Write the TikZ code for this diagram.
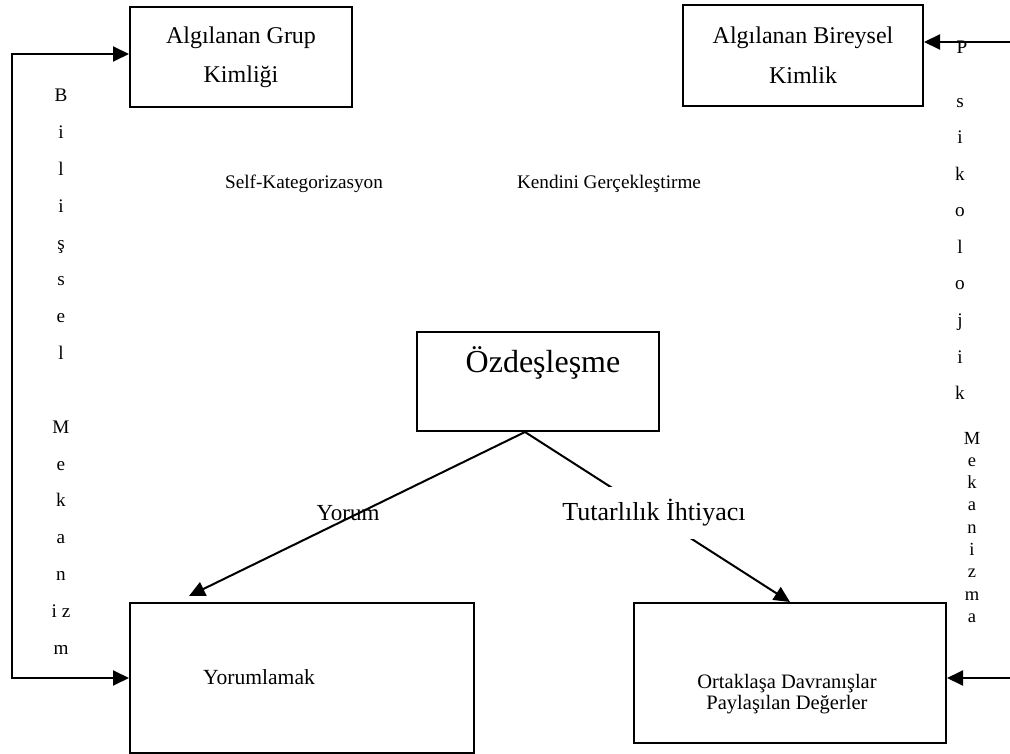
\documentclass[tikz,border=0pt]{standalone}
\usepackage{fontspec}
\setmainfont{Liberation Serif}
\usetikzlibrary{arrows.meta}
\begin{document}
\begin{tikzpicture}[x=1pt,y=-1pt,
  box/.style={draw, line width=2pt, inner sep=0pt},
  conn/.style={line width=2pt, -{Triangle[length=16pt,width=15pt]}},
  lbl/.style={inner sep=0pt, font=\fontsize{19.2}{23}\selectfont},
  small/.style={inner sep=0pt, font=\fontsize{18.5}{20}\selectfont}
]
\useasboundingbox (0,0) rectangle (1010,754);

% boxes
\node[box, minimum width=222, minimum height=100, align=center,
      font=\fontsize{24}{39}\selectfont] (grup) at (241,57) {Algılanan Grup\\Kimliği};
\node[box, minimum width=240, minimum height=101, align=center,
      font=\fontsize{24}{40}\selectfont] (bir) at (803,55.5) {Algılanan Bireysel\\Kimlik};
\node[box, minimum width=242, minimum height=99] (ozd) at (538,381.5) {};
\node[inner sep=0pt, font=\fontsize{32}{38}\selectfont] (ozdt) at (543,363) {Özdeşleşme};
\node[box, minimum width=344, minimum height=150] (yor) at (302,678) {};
\node[inner sep=0pt, font=\fontsize{21.6}{26}\selectfont] (yort) at (259,677) {Yorumlamak};
\node[box, minimum width=312, minimum height=140] (ort) at (790,673) {};
\node[inner sep=0pt, align=center, font=\fontsize{20.5}{21}\selectfont] (ortt) at (787,694)
     {Ortaklaşa Davranışlar\\Paylaşılan Değerler};

% free-standing labels
\node[lbl] (self) at (304,184) {Self-Kategorizasyon};
\node[lbl] (kend) at (609,184) {Kendini Gerçekleştirme};
\node[inner sep=0pt, font=\fontsize{23}{27}\selectfont] (yorum) at (348,513) {Yorum};

% left bracket connector
\coordinate (lcol) at (12,300);
\draw[line width=2pt, {Triangle[length=16pt,width=15pt]}-{Triangle[length=16pt,width=15pt]}]
  ([yshift=3pt]grup.west) -| (lcol) |- (yor.west);

% right-hand connectors entering from the edge
\coordinate (rtop) at (1010,42);
\coordinate (rbot) at (1010,678);
\draw[conn] (rtop) -- (rtop -| bir.east);
\draw[conn] (rbot) -- (rbot -| ort.east);

% branches from Özdeşleşme
\coordinate (apex) at ([xshift=-13pt]ozd.south);
\draw[conn] (apex) -- ([xshift=-113pt,yshift=6pt]yor.north);
\draw[conn] (apex) -- (ort.north);
\node[inner sep=0pt, fill=white, minimum height=52,
      font=\fontsize{26}{30}\selectfont] (tut) at (654,513) {Tutarlılık İhtiyacı};

% vertical lettering, left
\foreach \ch/\k in {B/0,i/1,l/2,i/3,ş/4,s/5,e/6,l/7,M/9,e/10,k/11,a/12,n/13,i z/14,m/15}
  \node[lbl, anchor=base] (lv\k) at (61,102+36.8*\k) {\ch};

% vertical lettering, right
\node[lbl, anchor=base] (rvP) at (962,54) {P};
\foreach \ch/\k in {s/0,i/1,k/2,o/3,l/4,o/5,j/6,i/7,k/8}
  \node[lbl, anchor=base] (rv\k) at (960,107.5+36.5*\k) {\ch};
\foreach \ch/\k in {M/0,e/1,k/2,a/3,n/4,i/5,z/6,m/7,a/8}
  \node[small, anchor=base] (rm\k) at (972,444+22.3*\k) {\ch};
\end{tikzpicture}
\end{document}
